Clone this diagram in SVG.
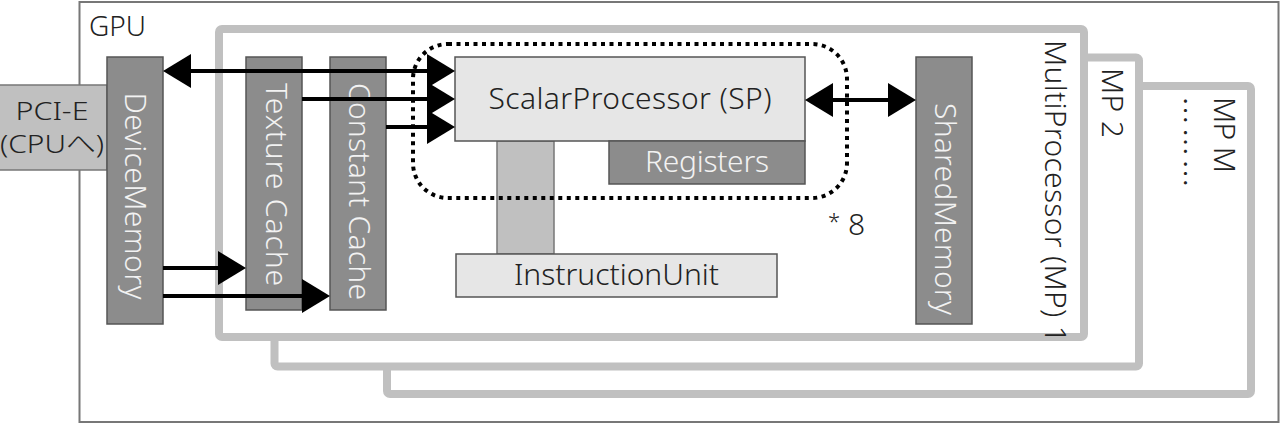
<svg xmlns="http://www.w3.org/2000/svg" width="1286" height="431" viewBox="0 0 1286 431">
<style>
text{font-family:"Noto Sans","Noto Sans CJK JP",sans-serif;font-size:30px;font-weight:300;fill:#222}
.mp{fill:#fff;stroke:#c0c0c0;stroke-width:8}
.dark{fill:#8c8c8c;stroke:#555;stroke-width:1.5}
.light{fill:#e6e6e6;stroke:#555;stroke-width:1.5}
.mid{fill:#c0c0c0;stroke:#777;stroke-width:1.5}
.wt{fill:#f2f2f2}
.v{text-anchor:middle;dominant-baseline:central}
.c{text-anchor:middle}
.sm{font-size:26px}
.conn{stroke:#000;stroke-width:4;fill:none;marker-end:url(#ah)}
.both{marker-start:url(#ah)}
</style>
<defs>
<marker id="ah" markerUnits="userSpaceOnUse" viewBox="0 0 28 34" markerWidth="28" markerHeight="34" refX="24" refY="17" orient="auto-start-reverse">
<path d="M0,0 L28,17 L0,34 z" fill="#000"/>
</marker>
</defs>
<g id="gpu">
<rect x="79.5" y="2" width="1199" height="420" fill="#fff" stroke="#777" stroke-width="2"/>
<text x="89" y="36" style="font-size:28px">GPU</text>
</g>
<g id="mpM">
<rect class="mp" x="387" y="86" width="864" height="308" rx="3"/>
<text class="v" transform="translate(1225,135) rotate(90)" textLength="76">MP M</text>
<text transform="translate(1174,142) rotate(90)" class="c" style="font-family:'Noto Sans CJK JP',sans-serif;font-size:28px" textLength="91">………</text>
</g>
<g id="mp2">
<rect class="mp" x="274.5" y="57.5" width="864.5" height="309" rx="3"/>
<text class="v" transform="translate(1113,103) rotate(90)" textLength="70">MP 2</text>
</g>
<g id="mp1">
<rect class="mp" x="219" y="29" width="865" height="308" rx="3"/>
<text class="v" transform="translate(1056,191.5) rotate(90)" textLength="303">MultiProcessor (MP) 1</text>
</g>
<g id="pcie">
<rect class="mid" x="-2" y="85" width="109" height="85" stroke="#666"/>
<text x="52" y="120" class="c sm" textLength="73" lengthAdjust="spacingAndGlyphs">PCI-E</text>
<text x="52" y="153" class="c sm" textLength="104" lengthAdjust="spacingAndGlyphs">(CPUへ)</text>
</g>
<g id="devicememory">
<rect class="dark" x="107" y="57" width="56" height="267"/>
<text class="v wt" transform="translate(136,196) rotate(90)" textLength="207">DeviceMemory</text>
</g>
<g id="texturecache">
<rect class="dark" x="246" y="57" width="56" height="253"/>
<text class="v wt" transform="translate(277,184.5) rotate(90)" textLength="203">Texture Cache</text>
</g>
<g id="constantcache">
<rect class="dark" x="330" y="57" width="56" height="253"/>
<text class="v wt" transform="translate(360,191.5) rotate(90)" textLength="217">Constant Cache</text>
</g>
<g id="sharedmemory">
<rect class="dark" x="916" y="57" width="56" height="267"/>
<text class="v wt" transform="translate(946,209) rotate(90)" textLength="212">SharedMemory</text>
</g>
<g id="link">
<rect class="mid" x="497" y="141" width="57" height="113"/>
</g>
<g id="instructionunit">
<rect class="light" x="456" y="254" width="321" height="43"/>
<text x="616.5" y="285" class="c" textLength="205">InstructionUnit</text>
</g>
<g id="sp">
<rect class="light" x="455" y="57" width="350" height="84"/>
<text x="630" y="109" class="c" textLength="283">ScalarProcessor (SP)</text>
</g>
<g id="registers">
<rect class="dark" x="609" y="141" width="196" height="43"/>
<text x="707" y="172" class="c wt" textLength="124">Registers</text>
</g>
<g id="spgroup">
<rect x="413" y="44" width="434" height="154" rx="35" fill="none" stroke="#000" stroke-width="4" stroke-dasharray="4 4.5"/>
<text x="828" y="235"><tspan style="font-size:22px" dy="-6">*</tspan><tspan dy="6"> 8</tspan></text>
</g>
<g id="connectors">
<line class="conn both" x1="167" y1="71" x2="451" y2="71"/>
<line class="conn" x1="302" y1="99" x2="451" y2="99"/>
<line class="conn" x1="386" y1="127" x2="451" y2="127"/>
<line class="conn both" x1="809" y1="100" x2="912" y2="100"/>
<line class="conn" x1="163" y1="268" x2="242" y2="268"/>
<line class="conn" x1="163" y1="296" x2="326" y2="296"/>
</g>
</svg>
